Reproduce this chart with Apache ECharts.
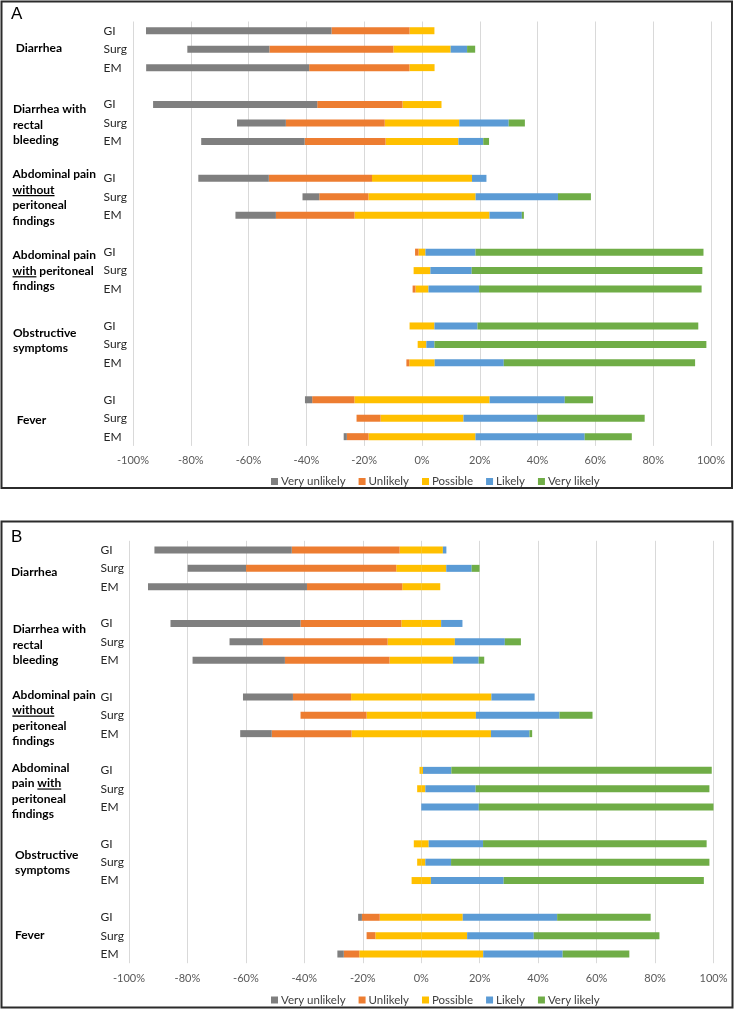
<!DOCTYPE html>
<html>
<head>
<meta charset="utf-8">
<script src="https://cdn.jsdelivr.net/npm/echarts@6/dist/echarts.min.js"></script>
<style>
  html, body { margin: 0; padding: 0; background: #fff; }
  #chart { width: 735px; height: 1010px; }
</style>
</head>
<body>
<div id="chart"></div>
<script>
// rows: symptom x respondent group
const subgroups = ['GI', 'Surg', 'EM']
const symptoms = ['Diarrhea', 'Diarrhea with rectal bleeding', 'Abdominal pain without peritoneal findings',
  'Abdominal pain with peritoneal findings', 'Obstructive symptoms', 'Fever']
const levels = ['Very unlikely', 'Unlikely', 'Possible', 'Likely', 'Very likely']
const levelColors = ['#7f7f7f', '#ed7d31', '#ffc000', '#5b9bd5', '#70ad47']

// Panel A (%), 18 rows: GI/Surg/EM for each symptom
const veryUnlikelyA = [64.2, 28.4, 56.4, 56.8, 16.9, 35.8, 24.4, 5.8, 14.0, 0, 0, 0, 0, 0, 0, 2.5, 0, 1.1]
const unlikelyA = [27.0, 42.9, 34.7, 29.5, 34.2, 28.0, 35.7, 17.0, 27.2, 1.2, 0, 1.0, 0, 0, 1.0, 14.6, 8.3, 7.5]
const possibleA = [8.6, 19.8, 8.7, 13.5, 25.8, 25.2, 34.6, 37.1, 46.7, 2.4, 5.8, 4.5, 8.6, 3.0, 8.8, 46.8, 28.7, 37.0]
const likelyA = [0, 5.7, 0, 0, 17.1, 8.6, 5.0, 28.5, 11.2, 17.3, 14.3, 17.5, 14.9, 2.8, 23.9, 26.0, 25.5, 37.8]
const veryLikelyA = [0, 2.8, 0, 0, 5.6, 2.0, 0, 11.4, 0.7, 78.9, 79.8, 77.0, 76.4, 94.1, 66.2, 9.8, 37.2, 16.3]

// Panel B (%)
const veryUnlikelyB = [47.0, 20.0, 54.4, 44.5, 11.4, 31.6, 17.1, 0, 10.8, 0, 0, 0, 0, 0, 0, 1.3, 0, 2.2]
const unlikelyB = [36.9, 51.4, 32.6, 34.5, 42.7, 35.8, 19.9, 22.6, 27.3, 0, 0, 0, 0, 0, 0, 6.1, 3.0, 5.3]
const possibleB = [14.8, 17.1, 13.0, 13.6, 23.0, 21.7, 48.0, 37.4, 47.7, 1.2, 2.8, 0, 5.1, 2.8, 6.6, 28.4, 31.4, 42.4]
const likelyB = [1.2, 8.7, 0, 7.3, 17.1, 8.8, 14.8, 28.6, 13.2, 9.7, 17.2, 19.7, 18.6, 8.8, 24.9, 32.3, 22.8, 27.2]
const veryLikelyB = [0, 2.7, 0, 0, 5.5, 1.9, 0, 11.3, 0.9, 89.1, 80.0, 80.3, 76.5, 88.4, 68.5, 32.0, 43.0, 22.8]

// group labels as printed (underscores mark underlined words)
const groupLabelsA = [['Diarrhea'], ['Diarrhea with', 'rectal', 'bleeding'],
  ['Abdominal pain', '_without_', 'peritoneal', 'findings'], ['Abdominal pain', '_with_ peritoneal', 'findings'],
  ['Obstructive', 'symptoms'], ['Fever']]
const groupLabelsB = [['Diarrhea'], ['Diarrhea with', 'rectal', 'bleeding'],
  ['Abdominal pain', '_without_', 'peritoneal', 'findings'], ['Abdominal', 'pain _with_', 'peritoneal', 'findings'],
  ['Obstructive', 'symptoms'], ['Fever']]

const FONT = 'Lato, "DejaVu Sans", sans-serif'

// category slots with an empty slot between symptom groups
const rowKeys = []
const slotOf = []
symptoms.forEach((s, si) => {
  subgroups.forEach(g => {
    slotOf.push(rowKeys.length)
    rowKeys.push(si + '|' + g)
  })
  if (si < symptoms.length - 1) rowKeys.push('gap' + si)
})

const toSlots = vals => {
  const out = rowKeys.map(() => '-')
  vals.forEach((v, i) => { out[slotOf[i]] = v === 0 ? '-' : v })
  return out
}

function panelSeries(idx, d) {
  const mk = (name, vals, sign) => ({
    name,
    type: 'bar',
    stack: 'p' + idx,
    xAxisIndex: idx,
    yAxisIndex: idx,
    barWidth: 7,
    silent: true,
    itemStyle: { color: levelColors[levels.indexOf(name)] },
    data: toSlots(vals.map(v => sign * v))
  })
  return [
    // neutral split across zero, then outward
    mk('Possible', d.possible.map(v => v / 2), -1),
    mk('Unlikely', d.unlikely, -1),
    mk('Very unlikely', d.veryUnlikely, -1),
    mk('Possible', d.possible.map(v => v / 2), 1),
    mk('Likely', d.likely, 1),
    mk('Very likely', d.veryLikely, 1)
  ]
}

const xAxisBase = margin => ({
  type: 'value',
  min: -100,
  max: 100,
  interval: 20,
  axisLine: { show: false },
  axisTick: { show: false },
  axisLabel: { formatter: v => v + '%', color: '#595959', fontSize: 11, fontFamily: FONT, margin },
  splitLine: { lineStyle: { color: '#d9d9d9', width: 1 } }
})

const yAxisBase = margin => ({
  type: 'category',
  data: rowKeys,
  inverse: true,
  axisLine: { show: false },
  axisTick: { show: false },
  splitLine: { show: false },
  axisLabel: {
    interval: 0,
    align: 'left',
    margin,
    color: '#262626',
    fontSize: 12,
    fontFamily: FONT,
    formatter: k => k.indexOf('|') >= 0 ? k.split('|')[1] : ''
  }
})

const legendBase = top => ({
  data: levels,
  left: 266,
  top,
  icon: 'rect',
  itemWidth: 7,
  itemHeight: 7,
  itemGap: 13,
  selectedMode: false,
  textStyle: { color: '#404040', fontSize: 11.5, fontFamily: FONT, padding: [0, 0, 0, -2] }
})

// group label texts + underlines
const measureCtx = document.createElement('canvas').getContext('2d')
function groupGraphics(labels, anchors) {
  const els = []
  const fs = 12, lh = 15.5
  measureCtx.font = 'bold ' + fs + 'px Lato'
  labels.forEach((lines, gi) => {
    const [x, cy] = anchors[gi]
    const y0 = cy - (lines.length - 1) * lh / 2
    lines.forEach((raw, li) => {
      const y = y0 + li * lh
      const parts = raw.split('_')
      const text = parts.join('')
      els.push({
        type: 'text', x, y, silent: true,
        style: { text, fontSize: fs, fontWeight: 'bold', fontFamily: FONT, fill: '#000', textVerticalAlign: 'middle' }
      })
      if (parts.length === 3) {
        const off = measureCtx.measureText(parts[0]).width
        const w = measureCtx.measureText(parts[1]).width
        els.push({
          type: 'rect', silent: true,
          shape: { x: x + off, y: y + 5.2, width: w, height: 1.2 },
          style: { fill: '#000' }
        })
      }
    })
  })
  return els
}

const anchorsA = [[15.7, 47.7], [13, 125], [12.5, 197.5], [12.5, 271], [13, 340.5], [16.7, 420]]
const anchorsB = [[11, 571.7], [12.7, 645], [12.3, 718], [11.7, 791], [15, 862.5], [15, 935]]

const chart = echarts.init(document.getElementById('chart'), null, { renderer: 'canvas' })

const option = {
  animation: false,
  backgroundColor: '#fff',
  grid: [
    { left: 133, right: 24, top: 21.5, height: 424.4 },
    { left: 129, right: 21.5, top: 540.8, height: 422.4 }
  ],
  xAxis: [xAxisBase(9), { ...xAxisBase(10), gridIndex: 1 }],
  yAxis: [yAxisBase(29.5), { ...yAxisBase(28.5), gridIndex: 1 }],
  legend: [legendBase(470.5), legendBase(989)],
  series: [
    ...panelSeries(0, { veryUnlikely: veryUnlikelyA, unlikely: unlikelyA, possible: possibleA, likely: likelyA, veryLikely: veryLikelyA }),
    ...panelSeries(1, { veryUnlikely: veryUnlikelyB, unlikely: unlikelyB, possible: possibleB, likely: likelyB, veryLikely: veryLikelyB })
  ],
  graphic: [
    // panel frames
    { type: 'rect', silent: true, shape: { x: 1.5, y: 1.5, width: 730.5, height: 486.5 }, style: { fill: null, stroke: '#2b2b2b', lineWidth: 2 } },
    { type: 'rect', silent: true, shape: { x: 1.5, y: 521.5, width: 731, height: 486 }, style: { fill: null, stroke: '#2b2b2b', lineWidth: 2 } },
    { type: 'text', x: 11, y: 14.5, silent: true, style: { text: 'A', fontSize: 17, fontFamily: 'Liberation Sans, sans-serif', fill: '#000', textVerticalAlign: 'middle' } },
    { type: 'text', x: 11, y: 537.5, silent: true, style: { text: 'B', fontSize: 17, fontFamily: 'Liberation Sans, sans-serif', fill: '#000', textVerticalAlign: 'middle' } },
    ...groupGraphics(groupLabelsA, anchorsA),
    ...groupGraphics(groupLabelsB, anchorsB)
  ]
}

chart.setOption(option)
</script>
</body>
</html>
